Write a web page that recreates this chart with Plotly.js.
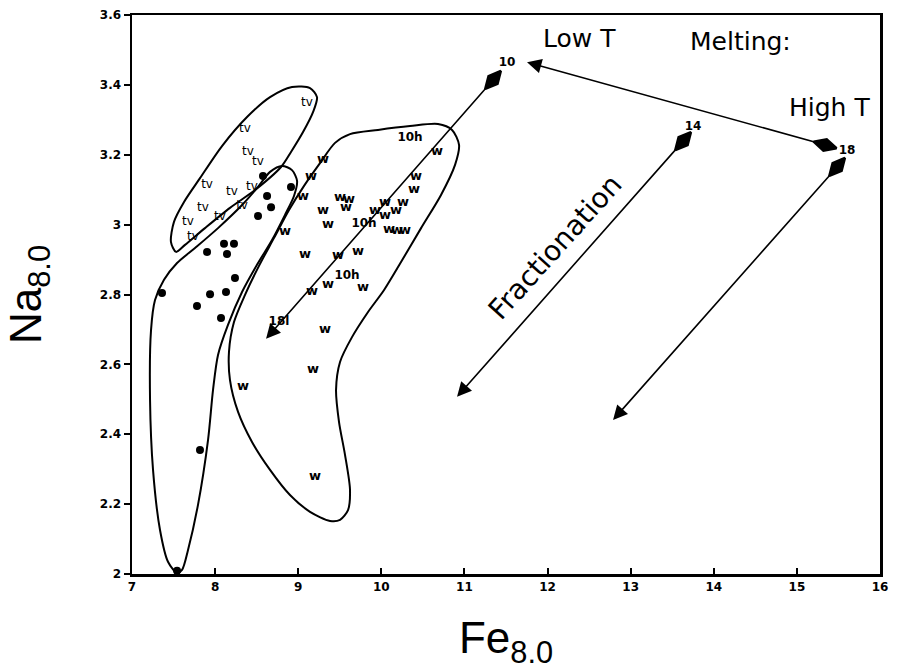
<!DOCTYPE html>
<html>
<head>
<meta charset="utf-8">
<script src="https://cdn.plot.ly/plotly-3.0.1.min.js"></script>
<style>html,body{margin:0;padding:0;background:#fff;}#chart{width:905px;height:672px;}</style>
</head>
<body>
<div id="chart"></div>
<script>
// ---- data ----
const tvX = [9.106, 8.360, 8.396, 8.516, 7.903, 8.203, 8.444, 7.854, 8.059, 8.324, 7.674, 7.734];
const tvY = [3.348, 3.274, 3.208, 3.179, 3.113, 3.093, 3.108, 3.048, 3.022, 3.053, 3.008, 2.965];

const dotX = [8.576, 8.913, 8.625, 8.673, 8.516, 7.903, 8.107, 8.227, 8.143, 8.239, 7.361, 7.939, 8.131, 7.782, 8.071, 7.818, 7.542];
const dotY = [3.139, 3.108, 3.082, 3.050, 3.025, 2.922, 2.945, 2.945, 2.916, 2.847, 2.804, 2.801, 2.807, 2.767, 2.733, 2.355, 2.009];

const wX = [9.298, 9.154, 9.058, 8.841, 9.298, 9.359, 9.503, 9.611, 9.575, 9.082, 9.479, 9.720, 9.359, 9.166, 9.780,
            10.670, 10.418, 10.394, 9.924, 10.045, 10.261, 10.177, 10.045, 10.093, 10.189, 10.285, 9.323, 9.178, 8.336, 9.202];
const wY = [3.185, 3.137, 3.079, 2.979, 3.039, 2.999, 3.076, 3.071, 3.048, 2.913, 2.910, 2.922, 2.827, 2.807, 2.819,
            3.208, 3.136, 3.099, 3.039, 3.062, 3.062, 3.039, 3.025, 2.985, 2.982, 2.982, 2.698, 2.584, 2.535, 2.278];

// hand-drawn field outlines
const tvFieldX = [7.530, 7.469, 7.505, 7.626, 7.818, 8.083, 8.384, 8.661, 8.925, 9.142, 9.226, 9.178, 9.058, 8.913, 8.793, 8.480, 8.179, 7.878, 7.638, 7.530];
const tvFieldY = [2.922, 2.950, 3.008, 3.065, 3.133, 3.225, 3.308, 3.365, 3.394, 3.391, 3.365, 3.322, 3.265, 3.208, 3.165, 3.099, 3.048, 2.990, 2.942, 2.922];

const dotFieldX = [7.542, 7.433, 7.337, 7.253, 7.217, 7.229, 7.277, 7.385, 7.542, 7.758, 8.035, 8.324, 8.516, 8.661, 8.805, 8.925, 8.986, 8.949, 8.841, 8.685, 8.504, 8.324, 8.155, 8.035, 7.975, 7.915, 7.794, 7.674, 7.602, 7.542];
const dotFieldY = [2.003, 2.035, 2.126, 2.298, 2.498, 2.698, 2.784, 2.842, 2.890, 2.933, 2.990, 3.056, 3.108, 3.151, 3.168, 3.156, 3.125, 3.082, 3.028, 2.956, 2.885, 2.807, 2.713, 2.627, 2.527, 2.384, 2.198, 2.069, 2.012, 2.003];

const wFieldX = [9.383, 9.142, 8.901, 8.661, 8.444, 8.276, 8.179, 8.167, 8.227, 8.360, 8.528, 8.709, 8.889, 9.070, 9.262, 9.443, 9.623, 9.960, 10.345, 10.682, 10.851, 10.935, 10.887, 10.718, 10.478, 10.237, 10.033, 9.840, 9.647, 9.503, 9.455, 9.491, 9.563, 9.623, 9.599, 9.503, 9.383];
const wFieldY = [2.152, 2.178, 2.226, 2.298, 2.378, 2.464, 2.555, 2.636, 2.721, 2.799, 2.882, 2.962, 3.042, 3.111, 3.176, 3.234, 3.259, 3.271, 3.282, 3.288, 3.271, 3.228, 3.171, 3.085, 2.990, 2.893, 2.813, 2.750, 2.678, 2.607, 2.527, 2.435, 2.341, 2.241, 2.183, 2.155, 2.152];

// fractionation paths (start at model point, arrow toward lower Fe/Na)
const fracStartX = [11.344, 13.631, 15.484];
const fracStartY = [3.414, 3.239, 3.165];
const fracEndX = [8.613, 10.911, 12.788];
const fracEndY = [2.673, 2.507, 2.441];

// melting path (from high T to low T)
const meltStartX = [15.339];
const meltStartY = [3.228];
const meltEndX = [11.753];
const meltEndY = [3.465];

// model labels
const modelLabels = ['10', '14', '18', '10h', '10h', '10h', '18l'];
const modelLabelX = [11.513, 13.751, 15.604, 10.345, 9.792, 9.587, 8.769];
const modelLabelY = [3.463, 3.279, 3.211, 3.248, 3.002, 2.853, 2.721];

const xTicks = [7, 8, 9, 10, 11, 12, 13, 14, 15, 16];
const yTicks = [2, 2.2, 2.4, 2.6, 2.8, 3, 3.2, 3.4, 3.6];

// ---- traces ----
const outline = (x, y) => ({
  x: x, y: y, type: 'scatter', mode: 'lines',
  line: {color: '#000', width: 2, shape: 'spline', smoothing: 0.8},
  hoverinfo: 'skip', showlegend: false
});

const traces = [
  outline(tvFieldX, tvFieldY),
  outline(dotFieldX, dotFieldY),
  outline(wFieldX, wFieldY),
  {
    x: tvX, y: tvY, type: 'scatter', mode: 'text', text: tvX.map(() => 'tv'),
    textfont: {family: 'DejaVu Sans', size: 12, color: '#000'}, showlegend: false
  },
  {
    x: wX, y: wY, type: 'scatter', mode: 'text', text: wX.map(() => '<b>w</b>'),
    textfont: {family: 'DejaVu Sans', size: 13, color: '#000'}, showlegend: false
  },
  {
    x: dotX, y: dotY, type: 'scatter', mode: 'markers',
    marker: {symbol: 'circle', size: 8, color: '#000'}, showlegend: false
  },
  {
    x: fracStartX, y: fracStartY, type: 'scatter', mode: 'markers',
    marker: {symbol: 'diamond-tall', size: 17, color: '#000', angle: 41, line: {color: '#000', width: 2.5}}, showlegend: false
  },
  {
    x: meltStartX, y: meltStartY, type: 'scatter', mode: 'markers',
    marker: {symbol: 'diamond-tall', size: 17, color: '#000', angle: 106, line: {color: '#000', width: 2.5}}, showlegend: false
  },
  {
    x: modelLabelX, y: modelLabelY, type: 'scatter', mode: 'text',
    text: modelLabels.map(s => '<b>' + s + '</b>'),
    textfont: {family: 'DejaVu Sans', size: 12, color: '#000'}, showlegend: false
  }
];

// ---- arrows ----
const annotations = [];
for (let i = 0; i < fracStartX.length; i++) {
  annotations.push({
    x: fracEndX[i], y: fracEndY[i], ax: fracStartX[i], ay: fracStartY[i],
    xref: 'x', yref: 'y', axref: 'x', ayref: 'y', text: '', showarrow: true,
    arrowhead: 2, arrowsize: 1.8, arrowwidth: 1.6, arrowcolor: '#000'
  });
}
for (let i = 0; i < meltStartX.length; i++) {
  annotations.push({
    x: meltEndX[i], y: meltEndY[i], ax: meltStartX[i], ay: meltStartY[i],
    xref: 'x', yref: 'y', axref: 'x', ayref: 'y', text: '', showarrow: true,
    arrowhead: 2, arrowsize: 1.8, arrowwidth: 1.6, arrowcolor: '#000'
  });
}
const bigFont = {family: 'DejaVu Sans', size: 25, color: '#000'};
annotations.push(
  {x: 12.38, y: 3.534, xref: 'x', yref: 'y', text: 'Low T', showarrow: false, font: bigFont},
  {x: 14.32, y: 3.523, xref: 'x', yref: 'y', text: 'Melting:', showarrow: false, font: bigFont},
  {x: 15.39, y: 3.334, xref: 'x', yref: 'y', text: 'High T', showarrow: false, font: bigFont},
  {x: 12.10, y: 2.936, xref: 'x', yref: 'y', text: 'Fractionation', showarrow: false, textangle: -48,
   font: {family: 'DejaVu Sans', size: 28, color: '#000'}}
);

const tickFont = {family: 'DejaVu Sans', size: 12, color: '#000'};

const layout = {
  width: 905, height: 672,
  margin: {l: 132, r: 25, t: 15, b: 98},
  paper_bgcolor: '#fff', plot_bgcolor: '#fff',
  showlegend: false,
  xaxis: {
    range: [7, 16], tickvals: xTicks, ticktext: xTicks.map(v => '<b>' + v + '</b>'),
    ticks: 'inside', ticklen: 6, tickwidth: 2, tickcolor: '#000',
    showline: true, linewidth: 2.5, linecolor: '#000', mirror: true,
    showgrid: false, zeroline: false, tickfont: tickFont,
    title: {text: 'Fe<sub>8.0</sub>', font: {family: 'Liberation Sans', size: 44, color: '#000'}, standoff: 30}
  },
  yaxis: {
    range: [2, 3.6], tickvals: yTicks, ticktext: yTicks.map(v => '<b>' + v + '</b>'),
    ticks: 'outside', ticklen: 6, tickwidth: 2, tickcolor: '#000',
    showline: true, linewidth: 2.5, linecolor: '#000', mirror: true,
    showgrid: false, zeroline: false, tickfont: tickFont,
    title: {text: 'Na<sub>8.0</sub>', font: {family: 'Liberation Sans', size: 44, color: '#000'}, standoff: 45}
  },
  annotations: annotations
};

Plotly.newPlot('chart', traces, layout, {displayModeBar: false, staticPlot: true});
</script>
</body>
</html>
